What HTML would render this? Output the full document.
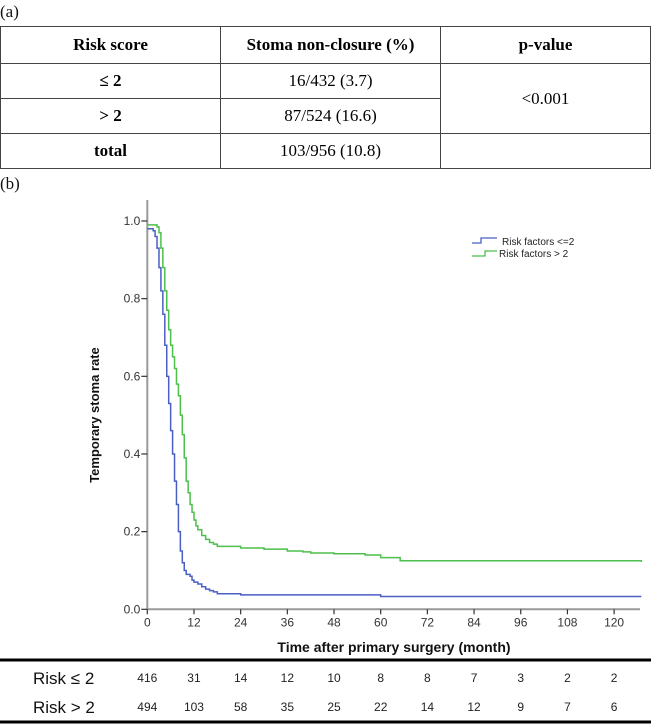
<!DOCTYPE html>
<html><head><meta charset="utf-8"><style>
body{margin:0;width:651px;height:725px;background:#fff;overflow:hidden;font-family:"Liberation Serif",serif;position:relative}
.lbl{position:absolute;font-size:17px;color:#111}
table{position:absolute;left:0;top:26px;width:651px;border-collapse:collapse;font-size:17px}
td{border:1px solid #444;text-align:center;height:34px;padding:0}
th{border:1px solid #444;height:34px;font-weight:bold}
</style></head><body>
<div class="lbl" style="left:0;top:2px">(a)</div>
<table>
<tr><th style="width:217px">Risk score</th><th style="width:217px">Stoma non-closure (%)</th><th>p-value</th></tr>
<tr><td style="font-weight:bold">≤ 2</td><td>16/432 (3.7)</td><td rowspan="2">&lt;0.001</td></tr>
<tr><td style="font-weight:bold">&gt; 2</td><td>87/524 (16.6)</td></tr>
<tr><td style="font-weight:bold">total</td><td>103/956 (10.8)</td><td></td></tr>
</table>
<div class="lbl" style="left:0;top:174px">(b)</div>
<svg id="km" width="651" height="725" style="position:absolute;left:0;top:0"></svg>
<script>
const xTicks=[0,12,24,36,48,60,72,84,96,108,120];
const yTicks=[0.0,0.2,0.4,0.6,0.8,1.0];
const blueT=[0,1.5,2,2.5,3,3.5,4,4.5,5,5.5,6,6.5,7,7.5,8,8.5,9,9.5,10,11,11.5,12,13,14,15,16,17,18,24,60,127];
const blueS=[0.98,0.975,0.96,0.93,0.88,0.82,0.76,0.68,0.60,0.53,0.46,0.40,0.33,0.27,0.20,0.15,0.12,0.10,0.09,0.085,0.075,0.07,0.065,0.058,0.052,0.048,0.045,0.04,0.037,0.033,0.033];
const greenT=[0,2.5,3,3.5,4,4.5,5,5.5,6,6.5,7,7.5,8,8.5,9,9.5,10,10.5,11,11.5,12,12.5,13,14,15,16,17,18,24,30,36,40,42,48,56,60,65,127];
const greenS=[0.99,0.985,0.97,0.93,0.88,0.82,0.77,0.72,0.68,0.65,0.62,0.58,0.55,0.50,0.45,0.39,0.33,0.30,0.27,0.25,0.23,0.215,0.205,0.19,0.18,0.172,0.168,0.162,0.158,0.155,0.15,0.148,0.145,0.143,0.14,0.133,0.125,0.122];
const riskLow=[416,31,14,12,10,8,8,7,3,2,2];
const riskHigh=[494,103,58,35,25,22,14,12,9,7,6];
const NS="http://www.w3.org/2000/svg",svg=document.getElementById('km');
const X=t=>147.3+t*3.89, Y=v=>609.3-v*388.3;
function mk(tag,a,txt){const e=document.createElementNS(NS,tag);for(const k in a)e.setAttribute(k,a[k]);if(txt!==undefined)e.textContent=txt;svg.appendChild(e);return e;}
let e;
e=mk('line',{x1:X(0),y1:200,x2:X(0),y2:Y(0),stroke:'#999','stroke-width':2});

e=mk('line',{x1:X(0),y1:Y(0),x2:640,y2:Y(0),stroke:'#999','stroke-width':2});

yTicks.forEach(v=>{mk('line',{x1:X(0)-6,y1:Y(v),x2:X(0),y2:Y(v),stroke:'#333','stroke-width':1.2});
e=mk('text',{x:X(0)-7,y:Y(v)+4,'text-anchor':'end','font-family':'Liberation Sans','font-size':12,fill:'#333'},v.toFixed(1));
});
xTicks.forEach((t,i)=>{mk('line',{x1:X(t),y1:Y(0),x2:X(t),y2:Y(0)+5,stroke:'#333','stroke-width':1.2});
e=mk('text',{x:X(t),y:Y(0)+17,'text-anchor':'middle','font-family':'Liberation Sans','font-size':12,fill:'#333'},t);

e=mk('text',{x:X(t),y:682,'text-anchor':'middle','font-family':'Liberation Sans Narrow, Liberation Sans','font-size':12,fill:'#222'},riskLow[i]);

e=mk('text',{x:X(t),y:711,'text-anchor':'middle','font-family':'Liberation Sans Narrow, Liberation Sans','font-size':12,fill:'#222'},riskHigh[i]);
});
function step(T,S,c,n){let d='M'+X(T[0])+','+Y(S[0]);for(let i=1;i<T.length;i++){d+='H'+X(T[i])+'V'+Y(S[i]);}
const p=mk('path',{d:d,fill:'none',stroke:c,'stroke-width':1.5});}
step(blueT,blueS,'#4a5fc4','curve-risk-low');
step(greenT,greenS,'#4cbf4c','curve-risk-high');
e=mk('text',{x:0,y:0,transform:'translate(99,415) rotate(-90)','text-anchor':'middle','font-family':'Liberation Sans','font-size':13,'font-weight':'bold',fill:'#111'},'Temporary stoma rate');

e=mk('text',{x:394,y:652,'text-anchor':'middle','font-family':'Liberation Sans','font-size':14,'font-weight':'bold',fill:'#111'},'Time after primary surgery (month)');

mk('path',{d:'M472,243H481V238H497',fill:'none',stroke:'#4a5fc4','stroke-width':1.3});
e=mk('text',{x:502,y:245,'font-family':'Liberation Sans','font-size':10,fill:'#222'},'Risk factors <=2');

mk('path',{d:'M472,256H485V251H497',fill:'none',stroke:'#4cbf4c','stroke-width':1.3});
e=mk('text',{x:499,y:257,'font-family':'Liberation Sans','font-size':10,fill:'#222'},'Risk factors > 2');

mk('line',{x1:0,y1:660,x2:651,y2:660,stroke:'#000','stroke-width':3});
mk('line',{x1:0,y1:722,x2:651,y2:722,stroke:'#000','stroke-width':3});
e=mk('text',{x:33,y:684,'font-family':'Liberation Sans Narrow, Liberation Sans','font-size':17,fill:'#111'},'Risk ≤ 2');

e=mk('text',{x:33,y:713,'font-family':'Liberation Sans Narrow, Liberation Sans','font-size':17,fill:'#111'},'Risk > 2');

</script>
</body></html>
